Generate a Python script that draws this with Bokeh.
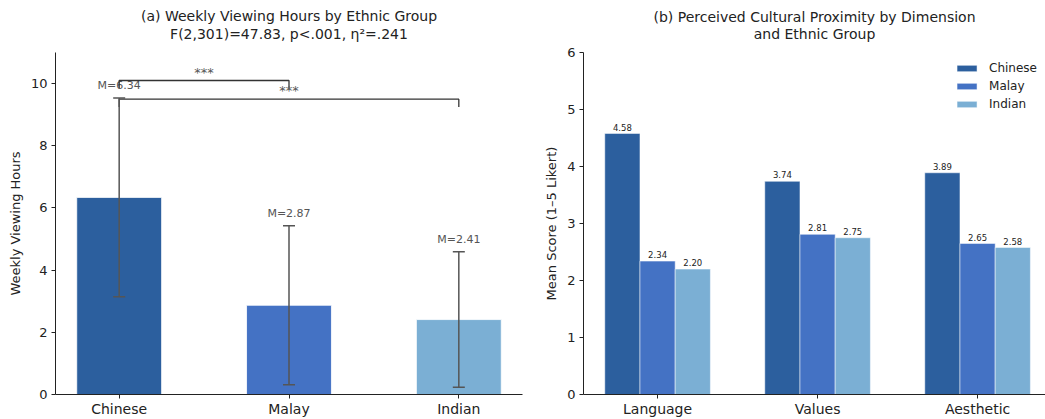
import numpy as np
from bokeh.plotting import figure
from bokeh.models import (ColumnDataSource, Whisker, TeeHead, FixedTicker,
                          Range1d, Legend, Title)
from bokeh.layouts import row
from bokeh.embed import file_html
from bokeh.resources import INLINE
from bokeh.core.properties import value

# ---------------- data ----------------
groups = ["Chinese", "Malay", "Indian"]
weekly_mean = [6.34, 2.87, 2.41]
weekly_sd = [3.20, 2.56, 2.18]
group_colors = ["#2c5f9e", "#4472c4", "#7bafd4"]

comparisons = [(0, 1), (0, 2)]
comparison_labels = ["***", "***"]
bracket_levels = [10.1, 9.5]

dimensions = ["Language", "Values", "Aesthetic"]
chinese_scores = [4.58, 3.74, 3.89]
malay_scores = [2.34, 2.81, 2.65]
indian_scores = [2.20, 2.75, 2.58]

FONT = "DejaVu Sans"
TXT = "#222222"


def style_axes(p):
    p.outline_line_color = None
    p.xgrid.visible = False
    p.ygrid.visible = False
    for ax in (p.xaxis, p.yaxis):
        ax.axis_line_color = TXT
        ax.axis_line_width = 1
        ax.major_tick_line_color = TXT
        ax.major_tick_in = 0
        ax.major_tick_out = 4
        ax.minor_tick_line_color = None
        ax.major_label_text_font = FONT
        ax.major_label_text_color = TXT
        ax.axis_label_text_font = FONT
        ax.axis_label_text_font_size = "13px"
        ax.axis_label_text_font_style = "normal"
        ax.axis_label_text_color = TXT
    p.xaxis.major_label_text_font_size = "14px"
    p.yaxis.major_label_text_font_size = "13px"
    p.yaxis.major_label_standoff = 4
    p.xaxis.major_label_standoff = 2
    p.yaxis.axis_label_standoff = 5


def add_titles(p, main, sub, sub_standoff, main_standoff):
    kw = dict(align="center", text_font=FONT, text_font_size="14px",
              text_font_style="normal", text_color=TXT)
    p.add_layout(Title(text=sub, standoff=sub_standoff, **kw), "above")
    p.add_layout(Title(text=main, standoff=main_standoff, **kw), "above")


# ---------------- left panel ----------------
p1 = figure(width=533, height=419, output_backend="svg", toolbar_location=None,
            x_range=Range1d(-0.375, 2.375), y_range=Range1d(0, 11),
            min_border_left=55, min_border_right=11, min_border_top=50,
            min_border_bottom=25)
p1.title = None
add_titles(p1, "(a) Weekly Viewing Hours by Ethnic Group",
           "F(2,301)=47.83, p<.001, η²=.241", 21, -21)

xpos = np.arange(len(groups))
upper = [m + s for m, s in zip(weekly_mean, weekly_sd)]
lower = [m - s for m, s in zip(weekly_mean, weekly_sd)]
src1 = ColumnDataSource(dict(x=xpos, top=weekly_mean, color=group_colors,
                             upper=upper, lower=lower,
                             lab=[f"M={m:.2f}" for m in weekly_mean],
                             laby=[u + 0.18 for u in upper]))
p1.vbar(x="x", top="top", width=0.5, fill_color="color", line_color="white",
        line_width=0.8, source=src1)
p1.add_layout(Whisker(source=src1, base="x", upper="upper", lower="lower",
                      dimension="height", line_color="#555555", line_width=1.5,
                      level="overlay",
                      upper_head=TeeHead(size=12, line_color="#555555", line_width=1.5),
                      lower_head=TeeHead(size=12, line_color="#555555", line_width=1.5)))
p1.text(x="x", y="laby", text="lab", source=src1, text_align="center",
        text_baseline="bottom", text_font=value(FONT), text_font_size="11px",
        text_color="#555555")

for (a, b), lab, lvl in zip(comparisons, comparison_labels, bracket_levels):
    p1.line(x=[a, a, b, b], y=[lvl - 0.25, lvl, lvl, lvl - 0.25],
            line_color="#333333", line_width=1.3)
    p1.text(x=[(a + b) / 2], y=[lvl + 0.03], text=[lab], text_align="center",
            text_baseline="bottom", text_font=value(FONT), text_font_size="13px",
            text_color="#555555")

style_axes(p1)
p1.xaxis.ticker = FixedTicker(ticks=list(xpos))
p1.xaxis.major_label_overrides = {int(i): g for i, g in zip(xpos, groups)}
p1.yaxis.ticker = FixedTicker(ticks=[0, 2, 4, 6, 8, 10])
p1.yaxis.axis_label = "Weekly Viewing Hours"

# ---------------- right panel ----------------
p2 = figure(width=512, height=419, output_backend="svg", toolbar_location=None,
            x_range=Range1d(-0.463, 2.4245), y_range=Range1d(0, 6),
            min_border_left=50, min_border_right=0, min_border_top=52,
            min_border_bottom=25)
p2.title = None
add_titles(p2, "(b) Perceived Cultural Proximity by Dimension",
           "and Ethnic Group", 21, -23)

bw = 0.22
dpos = np.arange(len(dimensions))
series = [("Chinese", chinese_scores), ("Malay", malay_scores), ("Indian", indian_scores)]
legend_items = []
for k, ((name, vals), col) in enumerate(zip(series, group_colors)):
    xs = dpos + (k - 1) * bw
    s = ColumnDataSource(dict(x=xs, top=vals, lab=[f"{v:.2f}" for v in vals],
                              laby=[v + 0.05 for v in vals]))
    r = p2.vbar(x="x", top="top", width=bw, fill_color=col, line_color="white",
                line_width=0.5, source=s)
    p2.text(x="x", y="laby", text="lab", source=s, text_align="center",
            text_baseline="bottom", text_font=value(FONT), text_font_size="8.5px",
            text_color=TXT)
    legend_items.append((name, [r]))

leg = Legend(items=legend_items, location="top_right", border_line_color=None,
             background_fill_alpha=0, padding=0, margin=8, spacing=3,
             glyph_width=25, glyph_height=8, label_height=15, label_standoff=10,
             label_text_font=FONT, label_text_font_size="12px", label_text_color=TXT)
p2.add_layout(leg)

style_axes(p2)
p2.xaxis.ticker = FixedTicker(ticks=list(dpos))
p2.xaxis.major_label_overrides = {int(i): d for i, d in zip(dpos, dimensions)}
p2.yaxis.ticker = FixedTicker(ticks=[0, 1, 2, 3, 4, 5, 6])
p2.yaxis.axis_label = "Mean Score (1–5 Likert)"

layout = row(p1, p2, spacing=0)
open("out.html", "w").write(file_html(layout, INLINE))
